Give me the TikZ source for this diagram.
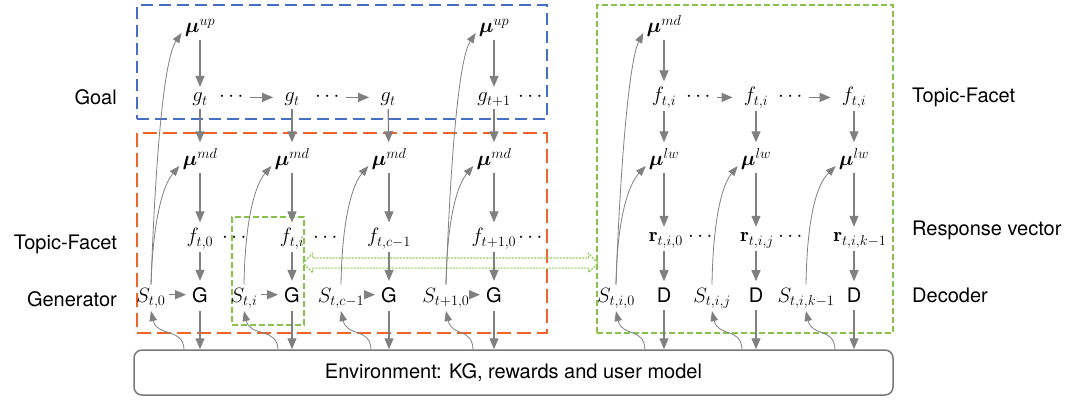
\documentclass[tikz,border=0pt]{standalone}
\usepackage{amsmath}
\usepackage{fontspec}
\setsansfont{TeX Gyre Heros}
\usetikzlibrary{arrows.meta,calc,shapes.arrows}

\definecolor{arrgray}{RGB}{128,128,128}
\definecolor{envgray}{RGB}{120,120,120}
\definecolor{goalblue}{RGB}{70,110,195}
\definecolor{genorange}{RGB}{240,100,40}
\definecolor{decgreen}{RGB}{135,195,75}
\definecolor{linkgreen}{RGB}{145,205,90}

\begin{document}
\begin{tikzpicture}[x=1pt,y=-1pt,
  font=\fontsize{20}{24}\selectfont,
  every node/.style={inner sep=3pt},
  mathnode/.style={anchor=base},
  unitbox/.style={anchor=base,font=\fontsize{20}{24}\selectfont\sffamily},
  rowlabel/.style={inner sep=0pt,font=\fontsize{20}{24}\selectfont\sffamily},
  flow/.style={draw=arrgray,line width=1.2pt,-{Triangle[length=11pt,width=9pt]},shorten >=3pt},
  chain/.style={flow,shorten >=8pt},
  feed/.style={draw=arrgray,line width=0.8pt,-{Triangle[length=10pt,width=7.5pt]}},
  goalframe/.style={draw=goalblue,line width=1.8pt,inner sep=0pt,dash pattern=on 12pt off 6pt},
  genframe/.style={draw=genorange,line width=1.8pt,inner sep=0pt,dash pattern=on 14pt off 6pt},
  decframe/.style={draw=decgreen,line width=1.5pt,inner sep=0pt,dash pattern=on 6pt off 3pt},
  linkarrow/.style={double arrow,draw=linkgreen,line width=1.1pt,dash pattern=on 2pt off 1.2pt,
    inner sep=4.5pt,double arrow head extend=4.5pt},
  envbox/.style={draw=envgray,line width=1.5pt,rounded corners=8pt,inner sep=0pt,
    minimum width=759pt,minimum height=45pt,font=\fontsize{20}{24}\selectfont\sffamily}
]
\useasboundingbox (0,0) rectangle (1072,401);

% frames
\node[goalframe,minimum width=410pt,minimum height=114pt] (goalbox) at (342,62) {};
\node[genframe,minimum width=410pt,minimum height=200pt] (genbox) at (342,233) {};
\node[decframe,minimum width=296pt,minimum height=328pt] (decbox) at (745,169) {};
\node[decframe,minimum width=72pt,minimum height=108pt] (stepframe) at (268,271) {};

% environment
\node[envbox] (env) at (513.5,372.5) {Environment: KG, rewards and user model};

% row labels
\node[rowlabel,anchor=base east] (lgoal) at (117,105) {Goal};
\node[rowlabel,anchor=base east] (ltopic) at (117,250) {Topic-Facet};
\node[rowlabel,anchor=base east] (lgen) at (117,306) {Generator};
\node[rowlabel,anchor=base west] (rtopic) at (912,103) {Topic-Facet};
\node[rowlabel,anchor=base west] (rresp) at (912,236) {Response vector};
\node[rowlabel,anchor=base west] (rdec) at (912,302) {Decoder};

% generator side
\node[mathnode] (muup1) at (200,33) {$\boldsymbol{\mu}^{up}$};
\node[mathnode] (muup2) at (494,33) {$\boldsymbol{\mu}^{up}$};
\node[mathnode] (g1) at (200,102) {$g_t$};
\node[mathnode] (g2) at (292,102) {$g_t$};
\node[mathnode] (g3) at (388,102) {$g_t$};
\node[mathnode] (g4) at (494,102) {$g_{t+1}$};
\node[mathnode] (gd1) at (233,102) {$\cdots$};
\node[mathnode] (gd2) at (329,102) {$\cdots$};
\node[mathnode] (gd3) at (532,102) {$\cdots$};
\node[mathnode] (mumd1) at (200,166) {$\boldsymbol{\mu}^{md}$};
\node[mathnode] (mumd2) at (292,166) {$\boldsymbol{\mu}^{md}$};
\node[mathnode] (mumd3) at (389,166) {$\boldsymbol{\mu}^{md}$};
\node[mathnode] (mumd4) at (494,166) {$\boldsymbol{\mu}^{md}$};
\node[mathnode] (f1) at (200,243) {$f_{t,0}$};
\node[mathnode] (f2) at (292,243) {$f_{t,i}$};
\node[mathnode] (f3) at (389,243) {$f_{t,c-1}$};
\node[mathnode] (f4) at (494,243) {$f_{t+1,0}$};
\node[mathnode] (fd1) at (236,243) {$\cdots$};
\node[mathnode] (fd2) at (327,243) {$\cdots$};
\node[mathnode] (fd3) at (532,243) {$\cdots$};
\node[unitbox] (G1) at (200,302) {G};
\node[unitbox] (G2) at (292,302) {G};
\node[unitbox] (G3) at (389,302) {G};
\node[unitbox] (G4) at (494,302) {G};
\node[mathnode] (S1) at (151,302) {$S_{t,0}$};
\node[mathnode] (S2) at (244,302) {$S_{t,i}$};
\node[mathnode] (S3) at (341,302) {$S_{t,c-1}$};
\node[mathnode] (S4) at (446,302) {$S_{t+1,0}$};

% decoder side
\node[mathnode] (mumdR) at (664,33) {$\boldsymbol{\mu}^{md}$};
\node[mathnode] (h1) at (664,102) {$f_{t,i}$};
\node[mathnode] (h2) at (756,102) {$f_{t,i}$};
\node[mathnode] (h3) at (854,102) {$f_{t,i}$};
\node[mathnode] (hd1) at (700,102) {$\cdots$};
\node[mathnode] (hd2) at (792,102) {$\cdots$};
\node[mathnode] (mulw1) at (664,166) {$\boldsymbol{\mu}^{lw}$};
\node[mathnode] (mulw2) at (756,166) {$\boldsymbol{\mu}^{lw}$};
\node[mathnode] (mulw3) at (854,166) {$\boldsymbol{\mu}^{lw}$};
\node[mathnode] (r1) at (666,242) {$\mathbf{r}_{t,i,0}$};
\node[mathnode] (r2) at (757,242) {$\mathbf{r}_{t,i,j}$};
\node[mathnode] (r3) at (860,242) {$\mathbf{r}_{t,i,k-1}$};
\node[mathnode] (rd1) at (702,242) {$\cdots$};
\node[mathnode] (rd2) at (792,242) {$\cdots$};
\node[unitbox] (D1) at (664,302) {D};
\node[unitbox] (D2) at (756,302) {D};
\node[unitbox] (D3) at (854,302) {D};
\node[mathnode] (T1) at (616,302) {$S_{t,i,0}$};
\node[mathnode] (T2) at (712,302) {$S_{t,i,j}$};
\node[mathnode] (T3) at (806,302) {$S_{t,i,k-1}$};

% link between the selected step and the decoder
\coordinate (linkrow) at (0,263);
\node[linkarrow,minimum height=295pt] (link)
  at ($(stepframe.east |- linkrow)!0.5!(decbox.west |- linkrow)$) {};

% generator flow
\draw[flow] (muup1) -- (g1);
\draw[flow] (muup2) -- (g4);
\draw[chain] (gd1.east) -- (gd1.east -| g2.west);
\draw[chain] (gd2.east) -- (gd2.east -| g3.west);
\foreach \k in {1,2,3,4}{
  \draw[flow] (g\k) -- (mumd\k);
  \draw[flow] (mumd\k) -- (f\k);
  \draw[flow] (f\k) -- (G\k);
  \draw[flow] (S\k.east |- G\k.west) -- (G\k.west);
  \draw[flow,shorten <=5pt,shorten >=0pt] (G\k) -- (G\k |- env.north);
}

% decoder flow
\draw[flow] (mumdR) -- (h1);
\draw[chain] (hd1.east) -- (hd1.east -| h2.west);
\draw[chain] (hd2.east) -- (hd2.east -| h3.west);
\foreach \k in {1,2,3}{
  \draw[flow] (h\k) -- (mulw\k);
  \draw[flow] (mulw\k) -- (mulw\k |- r\k.north);
  \draw[flow] (r\k.south -| D\k) -- (D\k);
  \draw[flow,shorten <=5pt,shorten >=0pt] (D\k) -- (D\k |- env.north);
}

% states feeding the policies
\draw[feed] (S1.north) .. controls (155,170) and (163,60) .. (muup1.base west);
\draw[feed] (S4.north) .. controls (450,170) and (458,60) .. (muup2.base west);
\draw[feed] (T1.north) .. controls (620,170) and (629,60) .. (mumdR.base west);
\draw[feed] (S1.north) .. controls (153,220) and (163,185) .. (mumd1.base west);
\draw[feed] (S2.north) .. controls (245,220) and (255,185) .. (mumd2.base west);
\draw[feed] (S3.north) .. controls (342,220) and (352,185) .. (mumd3.base west);
\draw[feed] (S4.north) .. controls (447,220) and (457,185) .. (mumd4.base west);
\draw[feed] (T1.north) .. controls (617,220) and (628,185) .. (mulw1.base west);
\draw[feed] (T2.north) .. controls (713,220) and (722,185) .. (mulw2.base west);
\draw[feed] (T3.north) .. controls (807,220) and (816,185) .. (mulw3.base west);

% environment returning states
\draw[feed] ($(S1.south |- env.north)+(33,0)$) .. controls +(-1,-22) and +(6,26) .. (S1.south);
\draw[feed] ($(S2.south |- env.north)+(34,0)$) .. controls +(-1,-22) and +(6,26) .. (S2.south);
\draw[feed] ($(S3.south |- env.north)+(30,0)$) .. controls +(-1,-22) and +(6,26) .. (S3.south);
\draw[feed] ($(S4.south |- env.north)+(27,0)$) .. controls +(-1,-22) and +(6,26) .. (S4.south);
\draw[feed] ($(T1.south |- env.north)+(29,0)$) .. controls +(-1,-22) and +(6,26) .. (T1.south);
\draw[feed] ($(T2.south |- env.north)+(30,0)$) .. controls +(-1,-22) and +(6,26) .. (T2.south);
\draw[feed] ($(T3.south |- env.north)+(29,0)$) .. controls +(-1,-22) and +(6,26) .. (T3.south);
\end{tikzpicture}
\end{document}
